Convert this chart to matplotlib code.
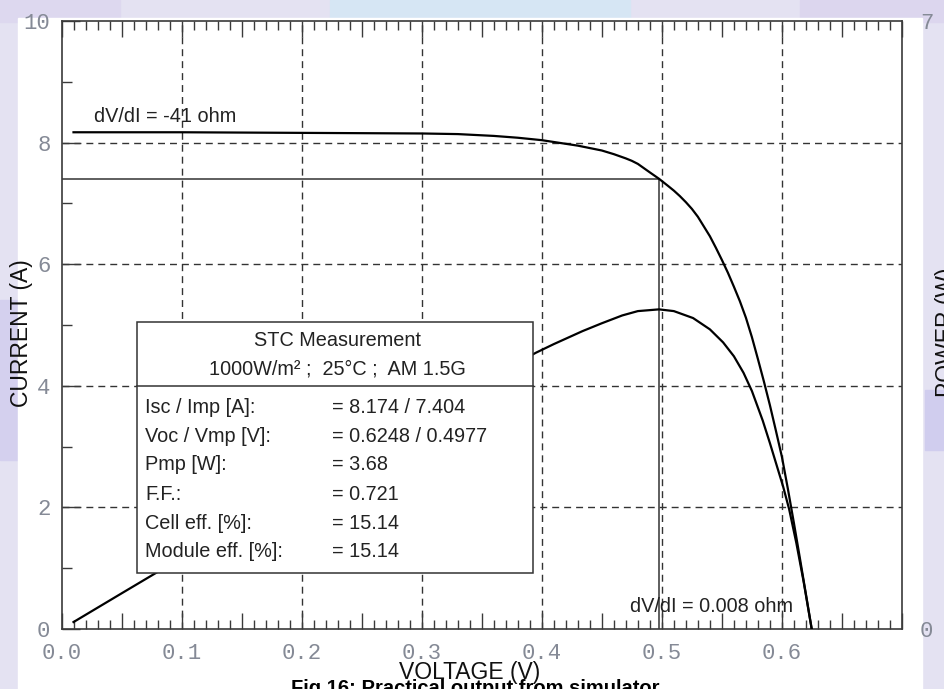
import matplotlib
matplotlib.use("Agg")
import matplotlib.pyplot as plt
from matplotlib.patches import Rectangle
from matplotlib.ticker import MultipleLocator, FuncFormatter

# ---------------- data ----------------
voltage = [0.010, 0.05, 0.10, 0.15, 0.20, 0.25, 0.30, 0.33, 0.36, 0.38, 0.39,
           0.40, 0.41, 0.42, 0.43, 0.44, 0.45, 0.46, 0.47, 0.475, 0.48, 0.485,
           0.49, 0.4977, 0.505, 0.51, 0.515, 0.52, 0.525, 0.53, 0.535, 0.54,
           0.545, 0.55, 0.555, 0.56, 0.565, 0.57, 0.575, 0.58, 0.585, 0.59,
           0.595, 0.60, 0.605, 0.61, 0.615, 0.62, 0.6248]
current = [8.17, 8.17, 8.17, 8.165, 8.16, 8.155, 8.15, 8.14, 8.11, 8.08, 8.06,
           8.04, 8.01, 7.98, 7.95, 7.91, 7.87, 7.81, 7.74, 7.70, 7.65, 7.58,
           7.51, 7.404, 7.29, 7.21, 7.12, 7.02, 6.91, 6.78, 6.62, 6.46,
           6.27, 6.07, 5.86, 5.63, 5.39, 5.12, 4.80, 4.44, 4.07, 3.68,
           3.26, 2.83, 2.30, 1.74, 1.16, 0.57, 0.0]

power_v = [0.010, 0.05, 0.078, 0.10, 0.20, 0.30, 0.395, 0.41, 0.434, 0.45,
           0.467, 0.48, 0.4977, 0.51, 0.526, 0.54, 0.551, 0.56, 0.568, 0.575,
           0.584, 0.59, 0.601, 0.606, 0.612, 0.618, 0.6248]
power_w = [0.08, 0.41, 0.64, 0.82, 1.63, 2.45, 3.18, 3.28, 3.43, 3.52,
           3.61, 3.66, 3.68, 3.66, 3.58, 3.45, 3.30, 3.14, 2.95, 2.74,
           2.40, 2.14, 1.64, 1.38, 0.99, 0.55, 0.0]

vmp = 0.4977
imp = 7.404

x_grid = [0.1, 0.2, 0.3, 0.4, 0.5, 0.6]
y_grid = [2, 4, 6, 8]
power_labels = [0, 7]

box_title = ["STC Measurement", "1000W/m\u00b2 ;  25\u00b0C ;  AM 1.5G"]
box_keys = ["Isc / Imp [A]:", "Voc / Vmp [V]:", "Pmp [W]:", "F.F.:",
            "Cell eff. [%]:", "Module eff. [%]:"]
box_vals = ["= 8.174 / 7.404", "= 0.6248 / 0.4977", "= 3.68", "= 0.721",
            "= 15.14", "= 15.14"]
note_top = "dV/dI = -41 ohm"
note_bottom = "dV/dI = 0.008 ohm"

# ---------------- figure ----------------
W, H = 944, 689
fig = plt.figure(figsize=(W / 100, H / 100), dpi=100)
fig.patch.set_facecolor("#e6e4f3")

# faint watermark-like background bands
bg = fig.add_axes([0, 0, 1, 1], zorder=-10)
bg.set_xlim(0, W); bg.set_ylim(H, 0); bg.axis("off")
bg.add_patch(Rectangle((0, 0), W, H, color="#e4e2f2"))
bg.add_patch(Rectangle((330, 0), 300, 22, color="#d6e6f4"))
bg.add_patch(Rectangle((0, 0), 120, 22, color="#ddd8ef"))
bg.add_patch(Rectangle((800, 0), 144, 22, color="#dcd6ee"))
bg.add_patch(Rectangle((0, 300), 20, 160, color="#d4d0ee"))
bg.add_patch(Rectangle((925, 390), 19, 60, color="#d0cdee"))
bg.add_patch(Rectangle((18, 18), 904, H, color="white"))

L, R, T, B = 61.5, 902, 21, 629
ax = fig.add_axes([L / W, 1 - B / H, (R - L) / W, (B - T) / H])
ax.set_xlim(0, 0.7)
ax.set_ylim(0, 10)
ax.set_facecolor("white")

spine_c = "#3a3a3a"
for s in ax.spines.values():
    s.set_color(spine_c)
    s.set_linewidth(1.2)

tick_font = dict(family="Liberation Mono", size=16)
tick_c = "#858a96"

ax.xaxis.set_major_locator(MultipleLocator(0.05))
ax.xaxis.set_minor_locator(MultipleLocator(0.01))
ax.xaxis.set_major_formatter(FuncFormatter(
    lambda v, p: f"{v:.1f}" if (round(v * 20) % 2 == 0 and v < 0.65) else ""))
ax.yaxis.set_major_locator(MultipleLocator(2))
ax.yaxis.set_minor_locator(MultipleLocator(1))
ax.yaxis.set_major_formatter(FuncFormatter(lambda v, p: f"{int(round(v))}"))

ax.tick_params(which="both", direction="in", top=True, right=True,
               color=spine_c, width=1.0)
ax.tick_params(axis="x", which="major", length=11.5, pad=10, labelcolor=tick_c)
ax.tick_params(axis="x", which="minor", length=6.5)
ax.tick_params(axis="y", which="major", length=13, pad=8, labelcolor=tick_c)
ax.tick_params(axis="y", which="minor", length=7)
for lab in ax.get_xticklabels() + ax.get_yticklabels():
    lab.set_fontfamily(tick_font["family"])
    lab.set_fontsize(tick_font["size"])

dash = (0, (5, 3.6))
for v in x_grid:
    ax.axvline(v, color="#333333", lw=1.0, ls=dash, zorder=1)
for i in y_grid:
    ax.axhline(i, color="#333333", lw=1.0, ls=dash, zorder=1)

# maximum power point lines
ax.plot([0, vmp], [imp, imp], color="#333333", lw=1.1, zorder=2)
ax.plot([vmp, vmp], [0, imp], color="#333333", lw=1.1, zorder=2)

# I-V curve
ax.plot(voltage, current, color="black", lw=1.6, zorder=3,
        solid_joinstyle="round")

# power axis
ax2 = ax.twinx()
ax2.set_ylim(0, 7)
ax2.set_yticks(power_labels)
ax2.set_yticklabels([str(p) for p in power_labels])
ax2.tick_params(axis="y", length=0, pad=13, labelcolor=tick_c)
for lab in ax2.get_yticklabels():
    lab.set_fontfamily(tick_font["family"])
    lab.set_fontsize(tick_font["size"])
for s in ax2.spines.values():
    s.set_visible(False)
ax2.plot(power_v, power_w, color="black", lw=1.6, zorder=2,
         solid_joinstyle="round")

# measurement box (drawn above curves)
txt_font = dict(family="Liberation Sans", size=14.3, color="#222222")
bx0, bx1, by0, by1 = 0.063, 0.393, 0.92, 5.05
ax2.add_patch(Rectangle((bx0, by0), bx1 - bx0, by1 - by0, transform=ax.transData,
                        facecolor="white", edgecolor="#333333", lw=1.1, zorder=5))
ax2.plot([bx0, bx1], [4.0, 4.0], transform=ax.transData, color="#333333",
         lw=1.1, zorder=6)
ax2.text(0.2298, 4.74, box_title[0], transform=ax.transData, ha="center",
         va="center", zorder=7, **txt_font)
ax2.text(0.2298, 4.28, box_title[1], transform=ax.transData, ha="center",
         va="center", zorder=7, **txt_font)
row_y = [3.65, 3.17, 2.70, 2.22, 1.74, 1.27]
for yy, k, v in zip(row_y, box_keys, box_vals):
    ax2.text(0.0696, yy, k, transform=ax.transData, ha="left", va="center",
             zorder=7, **txt_font)
    ax2.text(0.2254, yy, v, transform=ax.transData, ha="left", va="center",
             zorder=7, **txt_font)

ax2.text(0.027, 8.34, note_top, transform=ax.transData, ha="left",
         va="baseline", zorder=7, **txt_font)
ax2.text(0.4738, 0.285, note_bottom, transform=ax.transData, ha="left",
         va="baseline", zorder=7, **txt_font)

# axis titles and caption
lab_font = dict(family="Liberation Sans", size=16.5, color="#111111")
fig.text(22 / W, 1 - 333 / H, "CURRENT (A)", rotation=90, ha="center",
         va="center", **lab_font)
fig.text(947 / W, 1 - 332 / H, "POWER (W)", rotation=90, ha="center",
         va="center", **lab_font)
fig.text(470 / W, 1 - 673 / H, "VOLTAGE (V)", ha="center", va="center",
         **lab_font)
fig.text(475 / W, 1 - 679 / H, "Fig 16: Practical output from simulator",
         ha="center", va="top", family="Liberation Sans", weight="bold",
         size=14.5, color="black")

fig.savefig("out.png", dpi=100)
